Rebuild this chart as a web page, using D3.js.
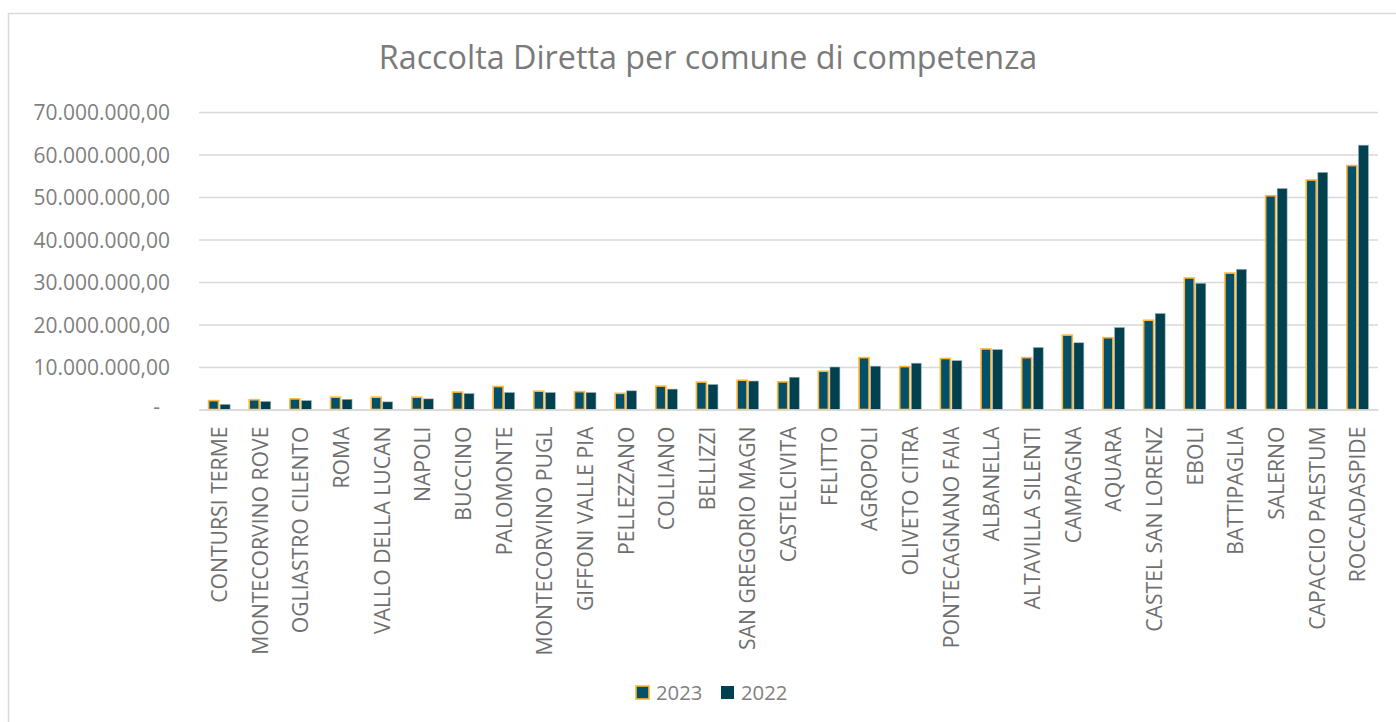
<!DOCTYPE html>
<html>
<head>
<meta charset="utf-8">
<script src="https://cdn.jsdelivr.net/npm/d3@7"></script>
<style>
  body { margin: 0; background: #fff; }
  svg { display: block; font-family: "Open Sans", sans-serif; }
</style>
</head>
<body>
<svg width="1396" height="722"></svg>
<script>
// data
const comuni = ['CONTURSI TERME', 'MONTECORVINO ROVE', 'OGLIASTRO CILENTO', 'ROMA', 'VALLO DELLA LUCAN',
    'NAPOLI', 'BUCCINO', 'PALOMONTE', 'MONTECORVINO PUGL', 'GIFFONI VALLE PIA', 'PELLEZZANO', 'COLLIANO',
    'BELLIZZI', 'SAN GREGORIO MAGN', 'CASTELCIVITA', 'FELITTO', 'AGROPOLI', 'OLIVETO CITRA',
    'PONTECAGNANO FAIA', 'ALBANELLA', 'ALTAVILLA SILENTI', 'CAMPAGNA', 'AQUARA', 'CASTEL SAN LORENZ',
    'EBOLI', 'BATTIPAGLIA', 'SALERNO', 'CAPACCIO PAESTUM', 'ROCCADASPIDE']
const val2023 = [2.1, 2.3, 2.5, 2.9, 2.9, 2.9, 4.1, 5.4, 4.3, 4.2, 3.8, 5.5,
    6.45, 6.9, 6.5, 9.0, 12.2, 10.1, 12.0, 14.25, 12.2, 17.5, 16.9, 21.0,
    30.95, 32.1, 50.3, 54.0, 57.4].map(v => v * 1e6)
const val2022 = [1.2, 1.9, 2.1, 2.4, 1.8, 2.5, 3.75, 4.0, 4.0, 4.0, 4.4, 4.8,
    5.9, 6.7, 7.6, 10.0, 10.2, 10.9, 11.5, 14.1, 14.6, 15.7, 19.3, 22.6,
    29.7, 33.0, 52.0, 55.8, 62.2].map(v => v * 1e6)
const serie = ['2023', '2022']
const yTicks = [0, 10e6, 20e6, 30e6, 40e6, 50e6, 60e6, 70e6]

//constants
const svg = d3.select('svg')
const padL = 199, padR = 1378, padT = 112, padB = 409.5
const col2023 = '#03506a', col2022 = '#01404f', orange = '#ffb733'
const grid = '#d9d9d9'
const font = '"Open Sans", sans-serif'
const it = d3.formatLocale({ decimal: ',', thousands: '.', grouping: [3], currency: ['€', ''] })
const fmt = it.format(',.2f')

//chart frame
svg.append('rect')
    .attr('x', 8.5).attr('y', 13.5)
    .attr('width', 1400).attr('height', 720)
    .attr('fill', 'none').attr('stroke', grid).attr('stroke-width', 1.5)

//scales
const x = d3.scaleBand().domain(comuni).range([padL, padR])
const y = d3.scaleLinear().domain([0, 70e6]).range([padB, padT])
const bw = x.bandwidth()
const barW = bw * 0.245
const xs = d3.scaleOrdinal().domain(serie).range([bw / 2 - barW - 0.8, bw / 2 + 0.8])

//grid + y axis
const yAxis = d3.axisLeft(y)
    .tickValues(yTicks)
    .tickSize(-(padR - padL))
    .tickPadding(29)
    .tickFormat(d => d === 0 ? '-' : fmt(d))
const gy = svg.append('g')
    .attr('transform', `translate(${padL},0)`)
    .call(yAxis)
    .attr('font-family', font)
gy.select('.domain').remove()
gy.selectAll('line').attr('stroke', grid).attr('stroke-width', 1.5)
gy.selectAll('text')
    .attr('fill', '#7f7f7f')
    .style('font-size', '21px')
    .attr('dy', '0.36em')
gy.selectAll('text').filter(d => d === 0).attr('dx', -10).attr('dy', '0.2em')

//bars
const groups = svg.append('g').selectAll('g')
    .data(comuni)
    .join('g')
    .attr('transform', d => `translate(${x(d)},0)`)

groups.append('rect')
    .attr('x', xs('2023'))
    .attr('width', barW)
    .attr('y', (d, i) => y(val2023[i]))
    .attr('height', (d, i) => y(0) - y(val2023[i]))
    .attr('fill', col2023)
    .attr('stroke', orange)
    .attr('stroke-width', 1.6)

groups.append('rect')
    .attr('x', xs('2022'))
    .attr('width', barW)
    .attr('y', (d, i) => y(val2022[i]))
    .attr('height', (d, i) => y(0) - y(val2022[i]))
    .attr('fill', col2022)
    .attr('stroke', '#9fb5bb')
    .attr('stroke-width', 0.6)

//x axis
const gx = svg.append('g')
    .attr('transform', `translate(0,${padB})`)
    .call(d3.axisBottom(x).tickSize(0))
    .attr('font-family', font)
gx.select('.domain').attr('stroke', grid).attr('stroke-width', 1.5)
gx.selectAll('text')
    .attr('fill', '#6f6f6f')
    .style('font-size', '21.2px')
    .attr('text-anchor', 'end')
    .attr('transform', 'rotate(-90)')
    .attr('x', -17)
    .attr('y', 0)
    .attr('dy', '0.36em')

//title
svg.append('text')
    .attr('x', 708)
    .attr('y', 69)
    .attr('text-anchor', 'middle')
    .attr('fill', '#7a7a7a')
    .style('font-size', '32.3px')
    .text('Raccolta Diretta per comune di competenza')

//legend
const legend = svg.append('g').attr('transform', 'translate(636,686)')
const items = legend.selectAll('g')
    .data(serie)
    .join('g')
    .attr('transform', (d, i) => `translate(${i * 85},0)`)
items.append('rect')
    .attr('width', 13).attr('height', 13)
    .attr('fill', d => d === '2023' ? col2023 : col2022)
    .attr('stroke', d => d === '2023' ? orange : 'none')
    .attr('stroke-width', 1.6)
items.append('text')
    .attr('x', 20).attr('y', 14)
    .attr('fill', '#7f7f7f')
    .style('font-size', '20.3px')
    .text(d => d)
</script>
</body>
</html>
